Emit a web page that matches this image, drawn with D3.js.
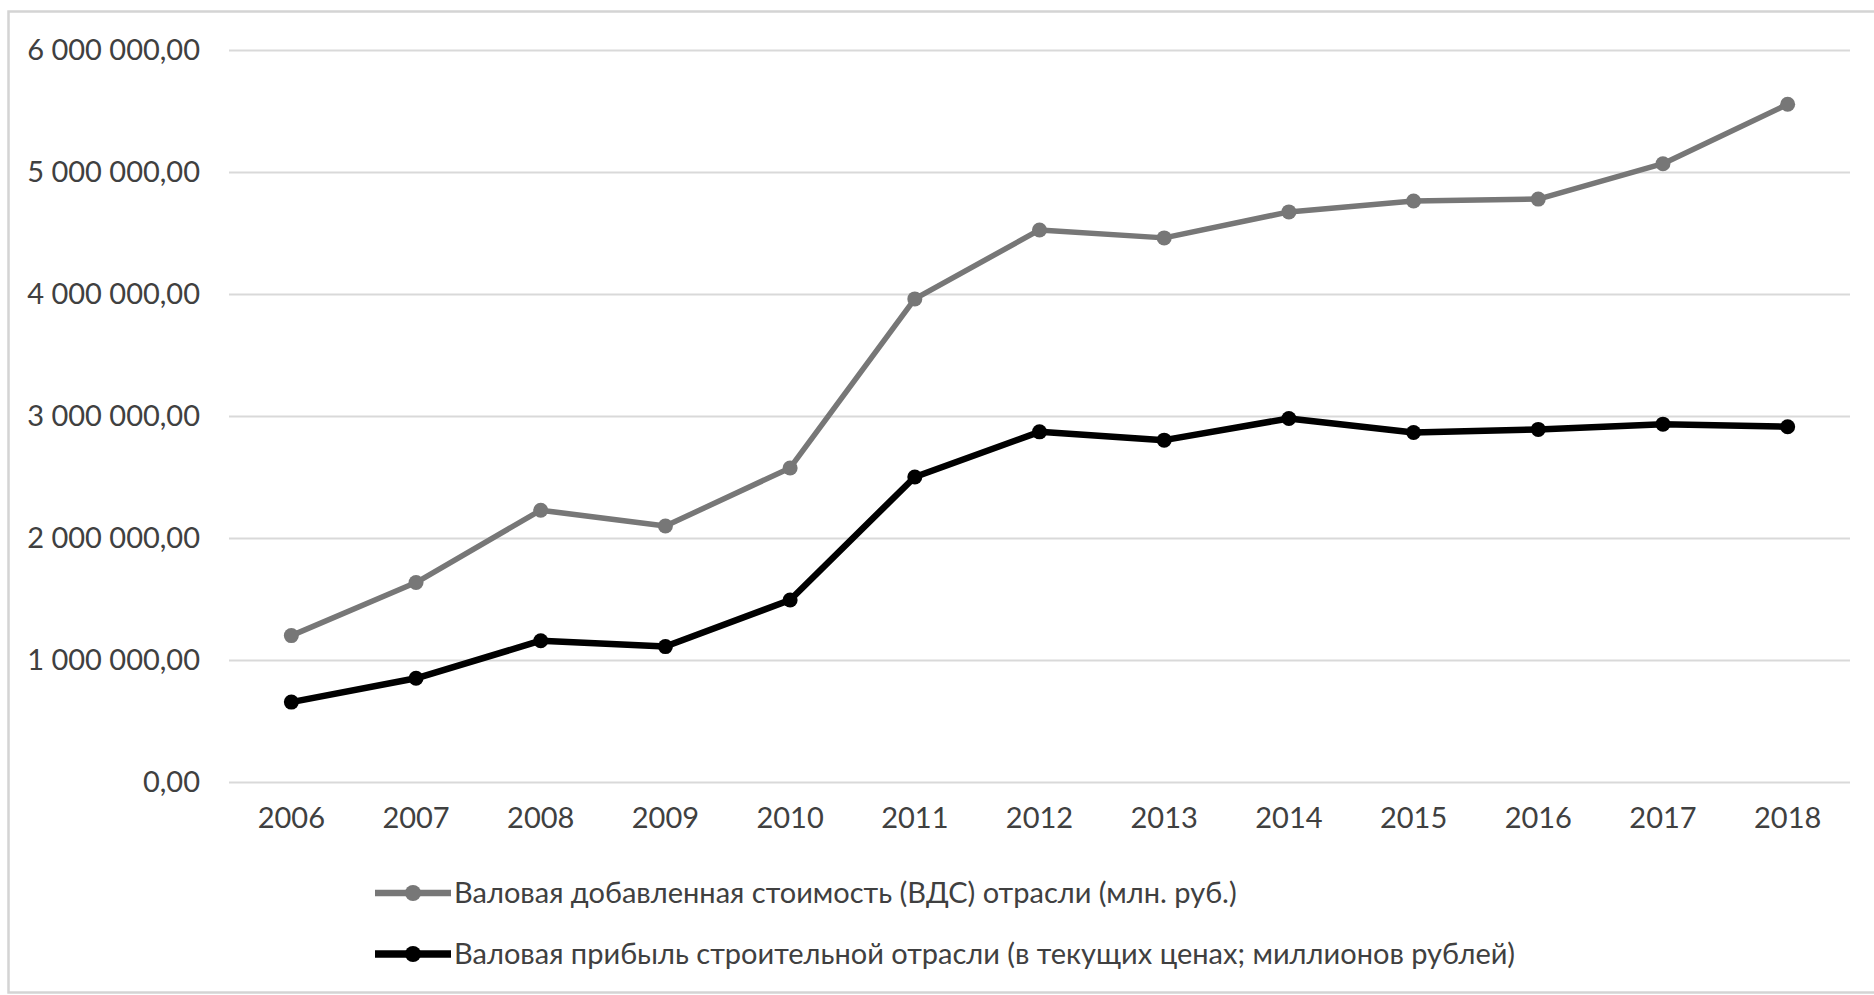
<!DOCTYPE html>
<html lang="ru">
<head>
<meta charset="utf-8">
<script src="https://cdn.jsdelivr.net/npm/d3@7"></script>
<style>
  html, body { margin: 0; padding: 0; background: #ffffff; }
  svg { display: block; }
  text { font-family: "Lato", "Open Sans", sans-serif; fill: #404040; }
</style>
</head>
<body>
<svg id="chart" width="1874" height="995"></svg>
<script>
// Years on the category axis
const years = ["2006", "2007", "2008", "2009", "2010", "2011", "2012",
               "2013", "2014", "2015", "2016", "2017", "2018"];

// Gross value added of the construction industry, mln rub.
const grossValueAdded = [1200000, 1635000, 2228000, 2098000, 2574000, 3960000, 4525000,
                         4460000, 4673000, 4762000, 4778000, 5068000, 5555000];

// Gross profit of the construction industry, current prices, mln rub.
const grossProfit = [655000, 850000, 1158000, 1110000, 1492000, 2500000, 2870000,
                     2802000, 2980000, 2865000, 2890000, 2933000, 2912000];

// Value axis ticks
const yTicks = [0, 1000000, 2000000, 3000000, 4000000, 5000000, 6000000];

const seriesNames = [
  "Валовая добавленная стоимость (ВДС) отрасли (млн. руб.)",
  "Валовая прибыль строительной отрасли (в текущих ценах; миллионов рублей)"
];

const series = [
  { name: seriesNames[0], values: grossValueAdded, color: "#777777", width: 5.5, r: 7.5 },
  { name: seriesNames[1], values: grossProfit, color: "#000000", width: 6.5, r: 7.5 }
];

const FONT_SIZE = 29;

const svg = d3.select("#chart");
const W = 1874;
const plot = { left: 229, right: 1850, top: 50, bottom: 782 };

// Chart area frame
svg.append("rect")
  .attr("x", 8.5).attr("y", 11.5)
  .attr("width", W + 20).attr("height", 981)
  .attr("fill", "#ffffff")
  .attr("stroke", "#d4d4d4").attr("stroke-width", 2.5);

const x = d3.scaleBand().domain(years).range([plot.left, plot.right]).padding(0);
const y = d3.scaleLinear().domain([0, 6000000]).range([plot.bottom, plot.top]);

// Russian number format: space-grouped thousands, comma decimal
const ru = d3.formatLocale({ decimal: ",", thousands: "\u00a0", grouping: [3], currency: ["", " руб."] });
const fmt = ru.format(",.2f");

// Horizontal gridlines with value labels
const yAxis = d3.axisLeft(y).tickValues(yTicks).tickFormat(fmt)
  .tickSize(-(plot.right - plot.left)).tickPadding(29);
const gy = svg.append("g").attr("transform", `translate(${plot.left},0)`).call(yAxis);
gy.select(".domain").remove();
gy.selectAll(".tick line").attr("stroke", "#d9d9d9").attr("stroke-width", 2);
gy.selectAll(".tick text")
  .attr("font-size", FONT_SIZE).attr("fill", "#404040")
  .style("font-family", "Lato, 'Open Sans', sans-serif");

// Category axis labels
const xAxis = d3.axisBottom(x).tickSize(0).tickPadding(25);
const gx = svg.append("g").attr("transform", `translate(0,${plot.bottom})`).call(xAxis);
gx.select(".domain").remove();
gx.selectAll(".tick text")
  .attr("font-size", FONT_SIZE).attr("fill", "#404040")
  .style("font-family", "Lato, 'Open Sans', sans-serif");

const cx = d => x(d) + x.bandwidth() / 2;
const line = d3.line().x(d => cx(d.year)).y(d => y(d.value));

series.forEach(s => {
  const pts = years.map((yr, i) => ({ year: yr, value: s.values[i] }));
  svg.append("path")
    .datum(pts)
    .attr("d", line)
    .attr("fill", "none")
    .attr("stroke", s.color)
    .attr("stroke-width", s.width)
    .attr("stroke-linejoin", "round")
    .attr("stroke-linecap", "round");
  svg.append("g").selectAll("circle")
    .data(pts).join("circle")
    .attr("cx", d => cx(d.year))
    .attr("cy", d => y(d.value))
    .attr("r", s.r)
    .attr("fill", s.color);
});

// Legend
const legendRows = [893, 954];
series.forEach((s, i) => {
  const g = svg.append("g").attr("transform", `translate(0,${legendRows[i]})`);
  g.append("line")
    .attr("x1", 375).attr("x2", 451)
    .attr("stroke", s.color).attr("stroke-width", s.width + 1);
  g.append("circle").attr("cx", 413).attr("cy", 0).attr("r", s.r + 0.5).attr("fill", s.color);
  g.append("text")
    .attr("x", 454).attr("y", 0).attr("dy", "0.35em")
    .attr("font-size", FONT_SIZE)
    .text(s.name);
});
</script>
</body>
</html>
